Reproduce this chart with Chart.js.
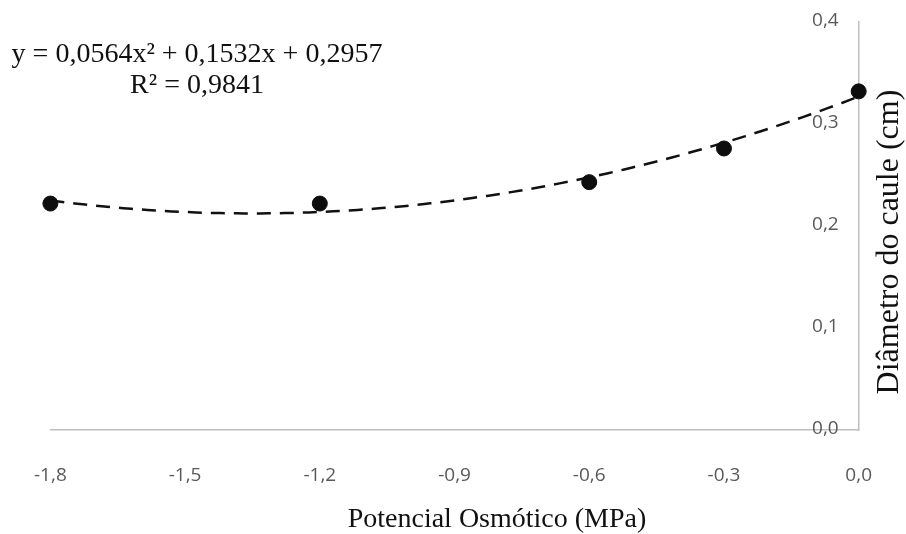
<!DOCTYPE html>
<html>
<head>
<meta charset="utf-8">
<script src="https://cdn.jsdelivr.net/npm/chart.js@4"></script>
<style>body{margin:0;background:#fff}</style>
</head>
<body>
<canvas id="graficoDiametro" width="906" height="534"></canvas>
<script>
// dados
const potencial = [-1.8, -1.2, -0.6, -0.3, 0.0];
const diametro = [0.222, 0.222, 0.243, 0.276, 0.332];
const ticksX = [-1.8, -1.5, -1.2, -0.9, -0.6, -0.3, 0.0];
const ticksY = [0.0, 0.1, 0.2, 0.3, 0.4];
const equacao = ['y = 0,0564x² + 0,1532x + 0,2957', 'R² = 0,9841'];
const tituloX = 'Potencial Osmótico (MPa)';
const tituloY = 'Diâmetro do caule (cm)';

function virgula(v) { return Number(v).toFixed(1).replace('.', ','); }

// ajuste polinomial de 2o grau (minimos quadrados), como a linha de tendencia do Excel
function ajusteQuadratico(xs, ys) {
    const s = [0, 0, 0, 0, 0], t = [0, 0, 0];
    xs.forEach(function (x, i) {
        for (let k = 0; k < 5; k++) s[k] += Math.pow(x, k);
        for (let k = 0; k < 3; k++) t[k] += ys[i] * Math.pow(x, k);
    });
    const A = [[s[0], s[1], s[2], t[0]], [s[1], s[2], s[3], t[1]], [s[2], s[3], s[4], t[2]]];
    for (let i = 0; i < 3; i++) {
        for (let j = i + 1; j < 3; j++) {
            const f = A[j][i] / A[i][i];
            for (let k = i; k < 4; k++) A[j][k] -= f * A[i][k];
        }
    }
    const c = [0, 0, 0];
    for (let i = 2; i >= 0; i--) {
        let soma = A[i][3];
        for (let k = i + 1; k < 3; k++) soma -= A[i][k] * c[k];
        c[i] = soma / A[i][i];
    }
    return c;
}

const linhaTendencia = {
    id: 'linhaTendencia',
    beforeDatasetsDraw(chart) {
        const c = ajusteQuadratico(potencial, diametro);
        const sx = chart.scales.x, sy = chart.scales.y;
        const ctx = chart.ctx;
        const x0 = Math.min(...potencial), x1 = Math.max(...potencial);
        ctx.save();
        ctx.beginPath();
        for (let i = 0; i <= 100; i++) {
            const x = x0 + (x1 - x0) * i / 100;
            const y = c[0] + c[1] * x + c[2] * x * x;
            const px = sx.getPixelForValue(x), py = sy.getPixelForValue(y);
            if (i === 0) ctx.moveTo(px, py); else ctx.lineTo(px, py);
        }
        ctx.setLineDash([14, 9]);
        ctx.lineWidth = 2.5;
        ctx.strokeStyle = '#111';
        ctx.stroke();
        ctx.restore();
    }
};

// rotulos do eixo y ficam a esquerda da linha do eixo (x = 0)
const rotulosY = {
    id: 'rotulosY',
    afterDraw(chart) {
        const sy = chart.scales.y;
        const ctx = chart.ctx;
        ctx.save();
        ctx.fillStyle = '#595959';
        ctx.font = '19px "Open Sans"';
        ctx.textAlign = 'right';
        ctx.textBaseline = 'middle';
        sy.ticks.forEach(function (t) {
            ctx.fillText(virgula(t.value), sy.left - 20, sy.getPixelForValue(t.value) - 1);
        });
        ctx.restore();
    }
};

const textos = {
    id: 'textos',
    afterDraw(chart) {
        const ctx = chart.ctx;
        ctx.save();
        ctx.fillStyle = '#111';
        ctx.font = '28px "Liberation Serif"';
        ctx.textBaseline = 'middle';
        ctx.textAlign = 'center';
        ctx.fillText(equacao[0], 197, 55);
        ctx.fillText(equacao[1], 197, 86);
        ctx.fillText(tituloX, 497, 520);
        ctx.font = '32px "Liberation Serif"';
        ctx.translate(890, 242);
        ctx.rotate(-Math.PI / 2);
        ctx.fillText(tituloY, 0, 0);
        ctx.restore();
    }
};

new Chart(document.getElementById('graficoDiametro'), {
    type: 'scatter',
    data: {
        datasets: [{
            label: 'Diâmetro',
            data: potencial.map(function (x, i) { return { x: x, y: diametro[i] }; }),
            backgroundColor: '#0d0d0d',
            borderColor: '#0d0d0d',
            pointRadius: 7.5,
            pointHoverRadius: 7.5,
            clip: false
        }]
    },
    options: {
        responsive: false,
        animation: false,
        layout: { padding: { left: 48, right: 45, top: 22, bottom: 0 } },
        plugins: { legend: { display: false }, tooltip: { enabled: false } },
        scales: {
            x: {
                type: 'linear',
                position: 'bottom',
                min: -1.8,
                max: 0,
                afterBuildTicks: function (s) { s.ticks = ticksX.map(function (v) { return { value: v }; }); },
                afterFit: function (s) { s.height = 104; },
                grid: { display: false, drawTicks: false },
                border: { display: true, color: '#bfbfbf', width: 1.5 },
                ticks: {
                    padding: 34,
                    maxRotation: 0,
                    color: '#595959',
                    font: { family: 'Open Sans', size: 19 },
                    callback: virgula
                }
            },
            y: {
                type: 'linear',
                position: 'right',
                min: 0,
                max: 0.4,
                afterBuildTicks: function (s) { s.ticks = ticksY.map(function (v) { return { value: v }; }); },
                afterFit: function (s) { s.width = 0; },
                grid: { display: false, drawTicks: false },
                border: { display: true, color: '#bfbfbf', width: 1.5 },
                ticks: { display: false }
            }
        }
    },
    plugins: [linhaTendencia, rotulosY, textos]
});
</script>
</body>
</html>
